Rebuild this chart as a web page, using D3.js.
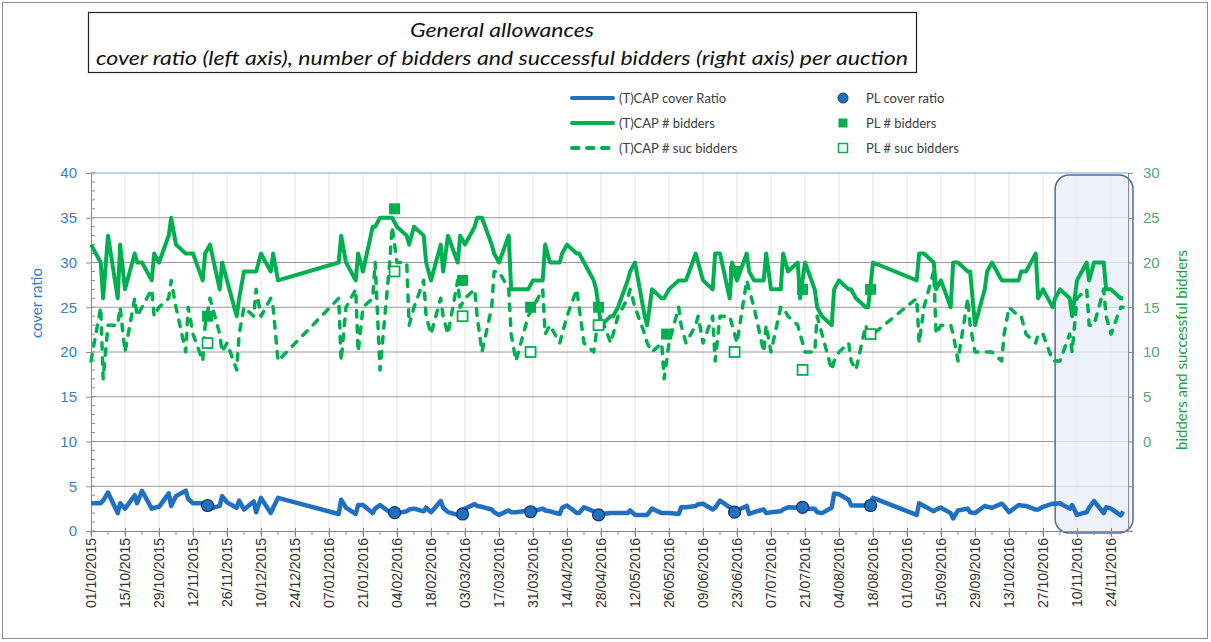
<!DOCTYPE html>
<html>
<head>
<meta charset="utf-8">
<script src="https://cdn.jsdelivr.net/npm/d3@7"></script>
<style>
	body{margin:0;background:#fff;}
	svg{font-family:Lato,"Open Sans",sans-serif;}
</style>
</head>
<body>
<svg id="chart" width="1211" height="642"></svg>
<script>
// (T)CAP auctions
const tcapDates = [
	"01/10/2015","05/10/2015","06/10/2015","08/10/2015","12/10/2015","13/10/2015","15/10/2015","19/10/2015","20/10/2015","22/10/2015","26/10/2015","27/10/2015","29/10/2015",
	"02/11/2015","03/11/2015","05/11/2015","09/11/2015","10/11/2015","12/11/2015","16/11/2015","17/11/2015","19/11/2015","23/11/2015","24/11/2015","26/11/2015","30/11/2015",
	"01/12/2015","03/12/2015","07/12/2015","08/12/2015","10/12/2015","14/12/2015","15/12/2015","17/12/2015",
	"11/01/2016","12/01/2016","14/01/2016","18/01/2016","19/01/2016","21/01/2016","25/01/2016","26/01/2016","28/01/2016",
	"01/02/2016","02/02/2016","04/02/2016","08/02/2016","09/02/2016","11/02/2016","15/02/2016","16/02/2016","18/02/2016","22/02/2016","23/02/2016","25/02/2016","29/02/2016",
	"01/03/2016","03/03/2016","07/03/2016","08/03/2016","10/03/2016","14/03/2016","15/03/2016","17/03/2016","21/03/2016","22/03/2016","24/03/2016","29/03/2016","31/03/2016",
	"04/04/2016","05/04/2016","07/04/2016","11/04/2016","12/04/2016","14/04/2016","18/04/2016","19/04/2016","21/04/2016","25/04/2016","26/04/2016","28/04/2016",
	"02/05/2016","03/05/2016","05/05/2016","09/05/2016","10/05/2016","12/05/2016","16/05/2016","17/05/2016","19/05/2016","23/05/2016","24/05/2016","26/05/2016","30/05/2016","31/05/2016",
	"02/06/2016","06/06/2016","07/06/2016","09/06/2016","13/06/2016","14/06/2016","16/06/2016","20/06/2016","21/06/2016","23/06/2016","27/06/2016","28/06/2016","30/06/2016",
	"04/07/2016","05/07/2016","07/07/2016","11/07/2016","12/07/2016","14/07/2016","18/07/2016","19/07/2016","21/07/2016","25/07/2016","26/07/2016","28/07/2016",
	"01/08/2016","02/08/2016","04/08/2016","08/08/2016","09/08/2016","11/08/2016","15/08/2016","16/08/2016","18/08/2016",
	"05/09/2016","06/09/2016","08/09/2016","12/09/2016","13/09/2016","15/09/2016","19/09/2016","20/09/2016","22/09/2016","26/09/2016","27/09/2016","29/09/2016",
	"03/10/2016","04/10/2016","06/10/2016","10/10/2016","11/10/2016","13/10/2016","17/10/2016","18/10/2016","20/10/2016","24/10/2016","25/10/2016","27/10/2016","31/10/2016",
	"01/11/2016","03/11/2016","07/11/2016","08/11/2016","10/11/2016","14/11/2016","15/11/2016","17/11/2016","21/11/2016","22/11/2016","24/11/2016","28/11/2016","29/11/2016"
];
const tcapCover = [
	3.1,3.1,3.4,4.3,2.0,3.1,2.5,4.0,3.1,4.5,2.5,2.6,2.7,
	4.2,2.8,3.9,4.5,3.6,3.1,3.1,3.0,2.5,2.8,3.9,3.2,2.6,
	3.4,2.4,3.3,2.1,3.7,2.0,2.6,3.7,
	1.9,3.5,2.6,1.9,2.9,2.9,2.0,2.5,2.9,
	2.1,2.1,2.0,2.2,2.4,2.5,2.2,2.6,2.1,3.35,2.6,2.1,1.8,
	2.3,2.5,3.0,2.8,2.7,2.4,2.1,1.8,2.3,2.1,2.1,2.3,2.2,
	2.5,2.3,2.2,1.9,2.6,2.85,2.0,2.0,2.65,2.2,2.0,1.9,
	2.0,2.0,2.0,2.0,2.3,1.8,1.8,1.8,2.5,2.0,2.0,2.0,1.9,2.65,
	2.65,2.8,3.0,3.05,2.4,2.6,3.4,2.65,2.5,2.3,2.8,1.9,2.1,
	2.4,2.0,2.1,2.2,2.4,2.65,2.6,2.6,2.5,2.5,2.1,2.0,
	2.6,4.2,4.1,3.5,2.85,2.85,2.85,2.85,3.7,
	1.8,3.1,2.8,2.2,2.4,2.6,2.0,1.4,2.3,2.5,2.1,2.0,
	2.8,2.7,2.6,3.05,2.8,2.1,2.9,2.85,2.8,2.4,2.4,2.7,3.05,
	3.05,3.1,2.5,2.9,1.8,2.1,2.6,3.35,2.0,2.65,2.5,1.75,2.2
];
const tcapBidders = [
	22,20,16,23,16,22,17,21,20,20,18,21,20,
	23,25,22,21,21,21,18,21,22,17,20,18,14,
	16,19,19,19,21,19,21,18,
	20,23,20,18,21,19,24,24,25,
	25,25,24,23,22,24,23,20,18,22,19,23,20,
	23,22,24,25,25,22,21,20,23,17,17,17,18,
	18,22,20,20,21,22,21,21,20,18,17,13,
	14,14,15,18,19,20,14,13,17,16,16,17,18,18,
	18,21,20,18,17,21,21,16,20,18,21,19,18,
	18,21,17,17,21,19,20,16,20,17,15,14,
	13,17,18,17,17,16,15,15,20,
	18,21,21,20,17,18,15,20,20,19,19,13,
	17,19,20,18,18,18,18,19,19,21,16,17,15,
	16,17,16,14,18,20,18,20,20,17,17,16,16
];
const tcapSuc = [
	9,15,7,13,13,15,10,16,14,15,17,14,15,
	16,18,15,10,15,12,9,13,16,12,10,11,8,
	12,15,14,17,14,16,15,9,
	16,9,15,17,10,15,16,20,8,
	20,24,20,20,13,15,18,14,12,16,14,12,18,
	15,16,17,14,10,15,19,19,17,12,9,14,15,
	17,12,13,11,12,14,17,15,11,10,12,14,
	11,12,14,16,17,15,12,11,10,11,7,11,15,13,
	11,13,14,11,14,9,14,14,13,11,18,17,15,
	10,13,10,15,15,14,13,12,10,10,14,12,
	8,9,10,11,9,8,13,12,12,
	16,11,15,19,12,13,13,12,9,16,13,10,
	10,10,10,9,12,15,14,14,12,11,12,12,9,
	9,9,12,10,16,17,13,13,17,14,12,15,15
];

// PL auctions
const plDates = ["18/11/2015","03/02/2016","02/03/2016","30/03/2016","27/04/2016","25/05/2016","22/06/2016","20/07/2016","17/08/2016"];
const plCover = [2.85,2.05,1.9,2.15,1.8,null,2.1,2.65,2.85];
const plBidders = [14,26,18,15,15,12,19,17,17];
const plSuc = [11,19,14,10,13,null,10,8,12];

const leftTicks = [0,5,10,15,20,25,30,35,40];
const rightTicks = [-10,-5,0,5,10,15,20,25,30];
const xStart = "01/10/2015", xEnd = "01/12/2016";
const focusStart = "01/11/2016";

const parse = d3.utcParse("%d/%m/%Y");
const fmt = d3.utcFormat("%d/%m/%Y");

const svg = d3.select("#chart");
const plot = {left: 91, right: 1128, top: 173, bottom: 531};

const blue = "#1f6fc2", green = "#00b050";
const dash = "6.5,8.5";

// Scales
const x = d3.scaleUtc().domain([parse(xStart), parse(xEnd)]).range([plot.left, plot.right]);
const yL = d3.scaleLinear().domain([0, 40]).range([plot.bottom, plot.top]);
const yR = d3.scaleLinear().domain([-10, 30]).range([plot.bottom, plot.top]);

const days = d3.utcDay.range(x.domain()[0], x.domain()[1]);
const majorDays = days.filter((d,i) => i % 14 === 0);
const minorDays = days.filter((d,i) => i % 7 === 0);

// Outer frame
svg.append("rect")
	.attr("x", 2.5).attr("y", 2.5)
	.attr("width", 1205).attr("height", 636)
	.attr("fill", "none")
	.attr("stroke", "#8e8e8e");

// Title box
svg.append("rect")
	.attr("x", 88.5).attr("y", 12.5)
	.attr("width", 828).attr("height", 60)
	.attr("fill", "#fff")
	.attr("stroke", "#222").attr("stroke-width", 1.2);
svg.append("text")
	.attr("x", 502).attr("y", 37)
	.attr("text-anchor", "middle")
	.attr("textLength", 184).attr("lengthAdjust", "spacingAndGlyphs")
	.style("font-style", "italic").style("font-size", "20px").attr("fill", "#111")
	.text("General allowances");
svg.append("text")
	.attr("x", 502).attr("y", 65)
	.attr("text-anchor", "middle")
	.attr("textLength", 812).attr("lengthAdjust", "spacingAndGlyphs")
	.style("font-style", "italic").style("font-size", "20px").attr("fill", "#111")
	.text("cover ratio (left axis), number of bidders and successful bidders (right axis) per auction");

// Legend
const legend = svg.append("g").style("font-size", "13px").attr("fill", "#404040");
const legLines = [
	{label: "(T)CAP cover Ratio", color: blue, dash: null},
	{label: "(T)CAP # bidders", color: green, dash: dash},
	{label: "(T)CAP # suc bidders", color: green, dash: dash}
];
legLines.forEach((l,i) => {
	const yy = 98 + i*25;
	legend.append("line")
		.attr("x1", 572).attr("x2", 613).attr("y1", yy).attr("y2", yy)
		.attr("stroke", l.color).attr("stroke-width", 4)
		.attr("stroke-linecap", "round")
		.attr("stroke-dasharray", i === 2 ? l.dash : null);
	legend.append("text").attr("x", 619).attr("y", yy).attr("dy", "0.35em").text(l.label);
});
const legMarks = ["PL cover ratio", "PL # bidders", "PL # suc bidders"];
legMarks.forEach((l,i) => {
	const yy = 98 + i*25;
	if(i === 0){
		legend.append("circle").attr("cx", 843).attr("cy", yy).attr("r", 5)
			.attr("fill", blue).attr("stroke", "#123a66");
	} else {
		legend.append("rect").attr("x", 838.5).attr("y", yy - 4.5).attr("width", 9).attr("height", 9)
			.attr("fill", i === 1 ? green : "#fff")
			.attr("stroke", green).attr("stroke-width", i === 1 ? 0 : 1.5);
	}
	legend.append("text").attr("x", 866).attr("y", yy).attr("dy", "0.35em").text(l);
});

// Gridlines
const grid = svg.append("g");
grid.selectAll(".vgrid")
	.data(majorDays.slice(1))
	.enter().append("line")
	.attr("x1", d => x(d)).attr("x2", d => x(d))
	.attr("y1", plot.top).attr("y2", plot.bottom)
	.attr("stroke", "#e6e6dc").attr("stroke-width", 1);
grid.selectAll(".hgrid")
	.data(leftTicks.filter(d => d > 0 && d < 40))
	.enter().append("line")
	.attr("x1", plot.left).attr("x2", plot.right)
	.attr("y1", d => yL(d)).attr("y2", d => yL(d))
	.attr("stroke", "#9a9a9a").attr("stroke-width", 1);
grid.append("line")
	.attr("x1", plot.left).attr("x2", plot.right)
	.attr("y1", yL(40)).attr("y2", yL(40))
	.attr("stroke", "#a9bfe3").attr("stroke-width", 1.5);

// Highlighted period
svg.append("rect")
	.attr("x", x(parse(focusStart)))
	.attr("y", yL(40) + 2)
	.attr("width", plot.right + 5 - x(parse(focusStart)))
	.attr("height", yL(0) - yL(40))
	.attr("rx", 14)
	.attr("fill", "#e8eef8").attr("fill-opacity", 0.75)
	.attr("stroke", "#4d6f9f").attr("stroke-width", 1.5);

// X axis
const xAxis = svg.append("g")
	.attr("transform", "translate(0," + plot.bottom + ")")
	.call(d3.axisBottom(x).tickValues(majorDays).tickFormat(fmt).tickSize(6).tickSizeOuter(0));
xAxis.select(".domain").attr("stroke", "#8a8a8a");
xAxis.selectAll(".tick line").attr("stroke", "#8a8a8a").attr("y1", -3);
xAxis.selectAll("text")
	.attr("transform", "rotate(-90)")
	.attr("text-anchor", "end")
	.attr("x", -7).attr("y", 0).attr("dy", "0.35em")
	.style("font-size", "14px").attr("fill", "#333");
xAxis.selectAll(".minor")
	.data(minorDays)
	.enter().append("line")
	.attr("x1", d => x(d)).attr("x2", d => x(d))
	.attr("y1", 0).attr("y2", 4)
	.attr("stroke", "#8a8a8a");

// Left axis
const leftAxis = svg.append("g")
	.attr("transform", "translate(" + plot.left + ",0)")
	.call(d3.axisLeft(yL).tickValues(leftTicks).tickSize(5).tickPadding(9).tickSizeOuter(0));
leftAxis.select(".domain").attr("stroke", "#8a8a8a");
leftAxis.selectAll(".tick line").attr("stroke", "#8a8a8a");
leftAxis.selectAll("text").style("font-size", "15px").attr("fill", "#3b80cf");
leftAxis.selectAll(".minor")
	.data(yL.ticks(40))
	.enter().append("line")
	.attr("x1", 0).attr("x2", 4)
	.attr("y1", d => yL(d)).attr("y2", d => yL(d))
	.attr("stroke", "#8a8a8a");

// Right axis
const rightAxis = svg.append("g")
	.attr("transform", "translate(" + plot.right + ",0)")
	.call(d3.axisRight(yR).tickValues(rightTicks).tickFormat(d => d < 0 ? "" : d).tickSize(5).tickPadding(10).tickSizeOuter(0));
rightAxis.select(".domain").attr("stroke", "#8a8a8a");
rightAxis.selectAll(".tick line").attr("stroke", "#8a8a8a");
rightAxis.selectAll("text").style("font-size", "15px").attr("fill", "#55a873");

// Axis titles
svg.append("text")
	.attr("transform", "translate(42,303) rotate(-90)")
	.attr("text-anchor", "middle")
	.style("font-size", "15px").attr("fill", "#2f7bd0")
	.text("cover ratio");
svg.append("text")
	.attr("transform", "translate(1187,350) rotate(-90)")
	.attr("text-anchor", "middle")
	.style("font-size", "15px").attr("fill", "#1f9f45")
	.text("bidders and successful bidders");

// Series
const tcap = tcapDates.map((d,i) => ({date: parse(d), cover: tcapCover[i], bid: tcapBidders[i], suc: tcapSuc[i]}));
const pl = plDates.map((d,i) => ({date: parse(d), cover: plCover[i], bid: plBidders[i], suc: plSuc[i]}));

const lines = svg.append("g").attr("fill", "none").attr("stroke-linejoin", "round");
lines.append("path")
	.datum(tcap)
	.attr("d", d3.line().x(d => x(d.date)).y(d => yL(d.cover)))
	.attr("stroke", blue).attr("stroke-width", 4.5);
lines.append("path")
	.datum(tcap)
	.attr("d", d3.line().x(d => x(d.date)).y(d => yR(d.suc)))
	.attr("stroke", green).attr("stroke-width", 3.5)
	.attr("stroke-dasharray", dash).attr("stroke-linecap", "round");
lines.append("path")
	.datum(tcap)
	.attr("d", d3.line().x(d => x(d.date)).y(d => yR(d.bid)))
	.attr("stroke", green).attr("stroke-width", 4);

// PL markers
const marks = svg.append("g");
marks.selectAll(".plsuc")
	.data(pl.filter(d => d.suc != null))
	.enter().append("rect")
	.attr("x", d => x(d.date) - 5).attr("y", d => yR(d.suc) - 5)
	.attr("width", 10).attr("height", 10)
	.attr("fill", "#fff").attr("stroke", green).attr("stroke-width", 1.8);
marks.selectAll(".plbid")
	.data(pl)
	.enter().append("rect")
	.attr("x", d => x(d.date) - 5.5).attr("y", d => yR(d.bid) - 5.5)
	.attr("width", 11).attr("height", 11)
	.attr("fill", green);
marks.selectAll(".plcov")
	.data(pl.filter(d => d.cover != null))
	.enter().append("circle")
	.attr("cx", d => x(d.date)).attr("cy", d => yL(d.cover))
	.attr("r", 6)
	.attr("fill", blue).attr("stroke", "#12365f").attr("stroke-width", 1.2);
</script>
</body>
</html>
